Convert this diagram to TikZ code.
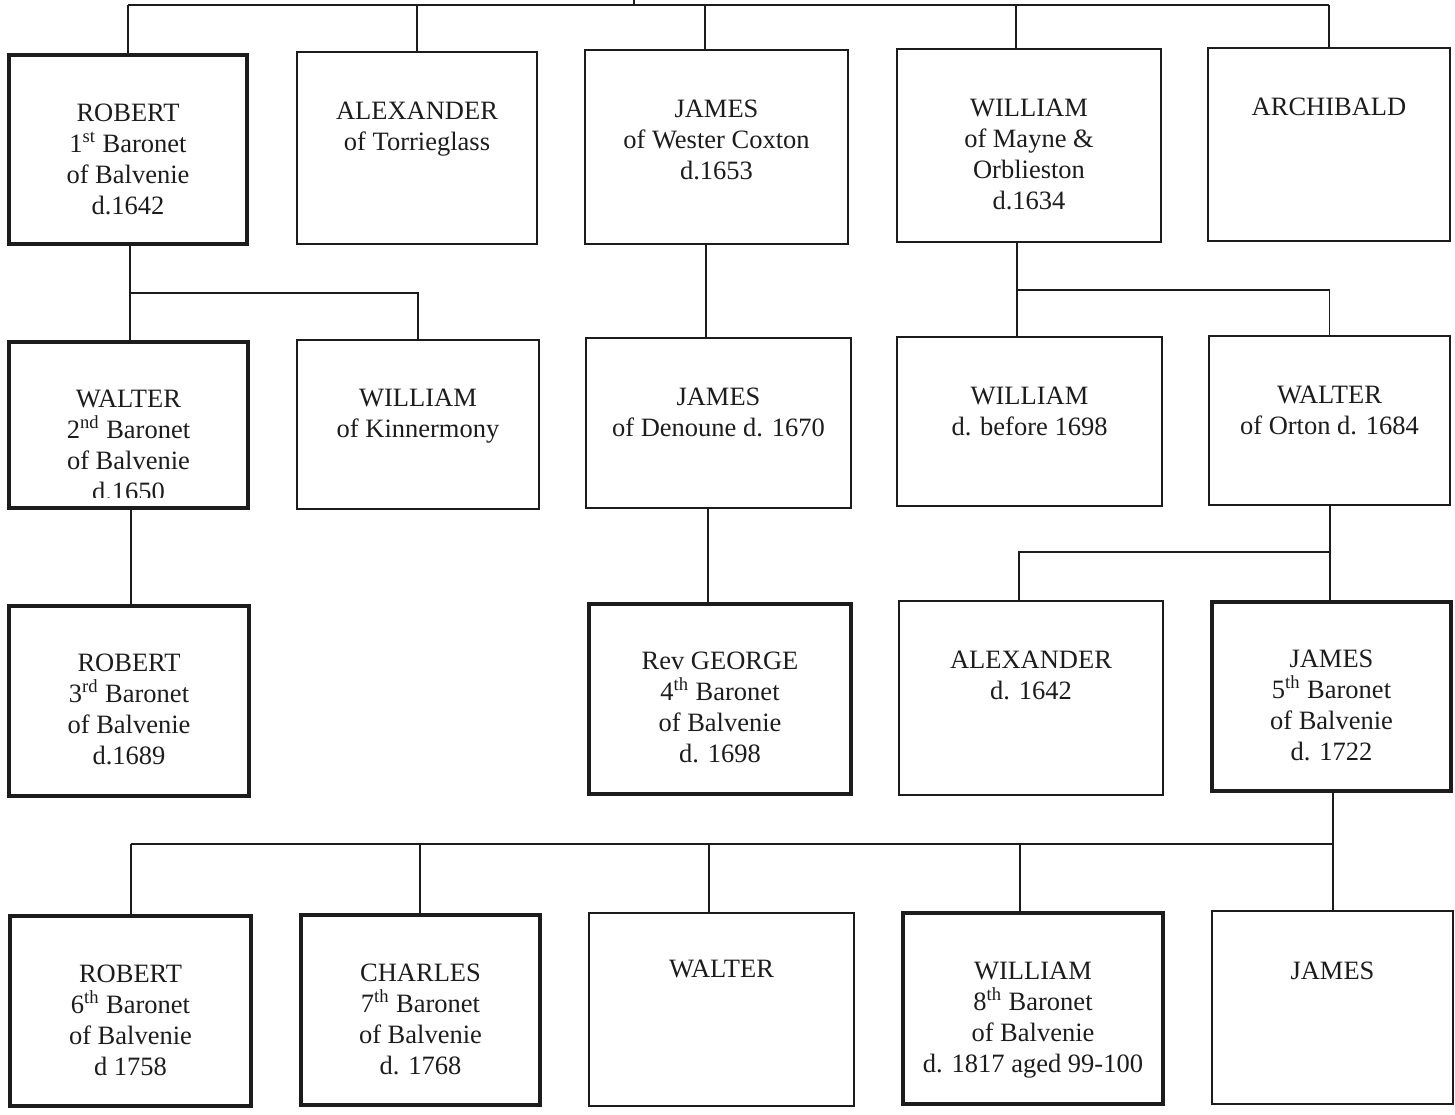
\documentclass[tikz,border=0pt]{standalone}
\usepackage{fontspec}
\setmainfont{Liberation Serif}
\usetikzlibrary{fit,calc}
\definecolor{ink}{HTML}{1C1C1C}
\begin{document}
\begin{tikzpicture}[x=0.5pt,y=-0.5pt,
  box/.style={draw=ink, line width=1.1pt, inner sep=0pt},
  heavy/.style={line width=2.2pt},
  txt/.style={anchor=north, inner sep=0pt, align=center, text=ink,
    font=\fontsize{13.25}{15.5}\selectfont},
  link/.style={draw=ink, line width=0.9pt}]
\useasboundingbox (0,0) rectangle (1455,1114);

% ---- first generation ----
\node[box, heavy, fit={(9,55) (247,244)}] (r1) {};
\node[box, fit={(297,52) (537,244)}] (a1) {};
\node[box, fit={(585,50) (848,244)}] (j1) {};
\node[box, fit={(897,49) (1161,242)}] (w1) {};
\node[box, fit={(1208,48) (1450,241)}] (ar1) {};

\node[txt] (r1t) at ($(r1.north)+(0,51)$) {ROBERT\\1\textsuperscript{st} Baronet\\of Balvenie\\d.1642};
\node[txt] (a1t) at ($(a1.north)+(0,51)$) {ALEXANDER\\of Torrieglass};
\node[txt] (j1t) at ($(j1.north)+(0,51)$) {JAMES\\of Wester Coxton\\d.1653};
\node[txt] (w1t) at ($(w1.north)+(0,51)$) {WILLIAM\\of Mayne \&\\Orblieston\\d.1634};
\node[txt] (ar1t) at ($(ar1.north)+(0,51)$) {ARCHIBALD};

% ---- second generation ----
\node[box, heavy, fit={(9,342) (248,508)}] (w2) {};
\node[box, fit={(297,340) (539,509)}] (wk2) {};
\node[box, fit={(586,338) (851,508)}] (jd2) {};
\node[box, fit={(897,337) (1162,506)}] (wb2) {};
\node[box, fit={(1209,336) (1450,505)}] (wo2) {};

% the last line of this box runs into its lower edge and is cut off
\begin{scope}
  \clip (w2.north west) rectangle ($(w2.south east)+(0,-13)$);
  \node[txt] (w2t) at ($(w2.north)+(0,50)$) {WALTER\\2\textsuperscript{nd} Baronet\\of Balvenie\\d.1650};
\end{scope}
\node[txt] (wk2t) at ($(wk2.north)+(0,50)$) {WILLIAM\\of Kinnermony};
\node[txt] (jd2t) at ($(jd2.north)+(0,51)$) {JAMES\\of Denoune d. 1670};
\node[txt] (wb2t) at ($(wb2.north)+(0,51)$) {WILLIAM\\d. before 1698};
\node[txt] (wo2t) at ($(wo2.north)+(0,51)$) {WALTER\\of Orton d. 1684};

% ---- third generation ----
\node[box, heavy, fit={(9,606) (249,796)}] (r3) {};
\node[box, heavy, fit={(589,604) (851,794)}] (g3) {};
\node[box, fit={(899,601) (1163,795)}] (al3) {};
\node[box, heavy, fit={(1212,602) (1451,791)}] (j3) {};

\node[txt] (r3t) at ($(r3.north)+(0,50)$) {ROBERT\\3\textsuperscript{rd} Baronet\\of Balvenie\\d.1689};
\node[txt] (g3t) at ($(g3.north)+(0,50)$) {Rev GEORGE\\4\textsuperscript{th} Baronet\\of Balvenie\\d. 1698};
\node[txt] (al3t) at ($(al3.north)+(0,51)$) {ALEXANDER\\d. 1642};
\node[txt] (j3t) at ($(j3.north)+(0,50)$) {JAMES\\5\textsuperscript{th} Baronet\\of Balvenie\\d. 1722};

% ---- fourth generation ----
\node[box, heavy, fit={(10,916) (251,1106)}] (r4) {};
\node[box, heavy, fit={(301,915) (540,1105)}] (c4) {};
\node[box, fit={(589,913) (854,1106)}] (wa4) {};
\node[box, heavy, fit={(903,913) (1163,1104)}] (wi4) {};
\node[box, fit={(1212,911) (1453,1104)}] (ja4) {};

\node[txt] (r4t) at ($(r4.north)+(0,51)$) {ROBERT\\6\textsuperscript{th} Baronet\\of Balvenie\\d 1758};
\node[txt] (c4t) at ($(c4.north)+(0,51)$) {CHARLES\\7\textsuperscript{th} Baronet\\of Balvenie\\d. 1768};
\node[txt] (wa4t) at ($(wa4.north)+(0,48)$) {WALTER};
\node[txt] (wi4t) at ($(wi4.north)+(0,51)$) {WILLIAM\\8\textsuperscript{th} Baronet\\of Balvenie\\d. 1817 aged 99-100};
\node[txt] (ja4t) at ($(ja4.north)+(0,52)$) {JAMES};

% ---- connectors ----
\coordinate (root) at (634,0);
\coordinate (rootbus) at (634,5);
\draw[link] (root) -- (rootbus);
\draw[link] (rootbus -| r1.north) -- (rootbus -| ar1.north);
\draw[link] (rootbus -| r1.north) -- (r1.north);
\draw[link] (rootbus -| a1.north) -- (a1.north);
\draw[link] (rootbus -| 705,0) -- (j1.north -| 705,0);
\draw[link] (rootbus -| 1016,0) -- (w1.north -| 1016,0);
\draw[link] (rootbus -| ar1.north) -- (ar1.north);

\coordinate (rk) at (130,293);
\draw[link] (r1.south -| 130,0) -- (w2.north -| 130,0);
\draw[link] (rk) -| (wk2.north);
\draw[link] (j1.south -| 706,0) -- (jd2.north -| 706,0);
\coordinate (wm) at (1017,290);
\draw[link] (w1.south -| 1017,0) -- (wb2.north -| 1017,0);
\draw[link] (wm) -| (wo2.north);

\draw[link] (w2.south -| 131,0) -- (r3.north -| 131,0);
\draw[link] (jd2.south -| 708,0) -- (g3.north -| 708,0);
\coordinate (wo) at (1330,552);
\draw[link] (wo2.south -| 1330,0) -- (j3.north -| 1330,0);
\draw[link] (wo) -| (al3.north -| 1019,0);

\coordinate (jb) at (1333,844);
\draw[link] (j3.south -| 1333,0) -- (ja4.north -| 1333,0);
\draw[link] (jb) -- (jb -| 131,0);
\draw[link] (jb -| 131,0) -- (r4.north -| 131,0);
\draw[link] (jb -| 420,0) -- (c4.north -| 420,0);
\draw[link] (jb -| 709,0) -- (wa4.north -| 709,0);
\draw[link] (jb -| 1020,0) -- (wi4.north -| 1020,0);
\end{tikzpicture}
\end{document}
